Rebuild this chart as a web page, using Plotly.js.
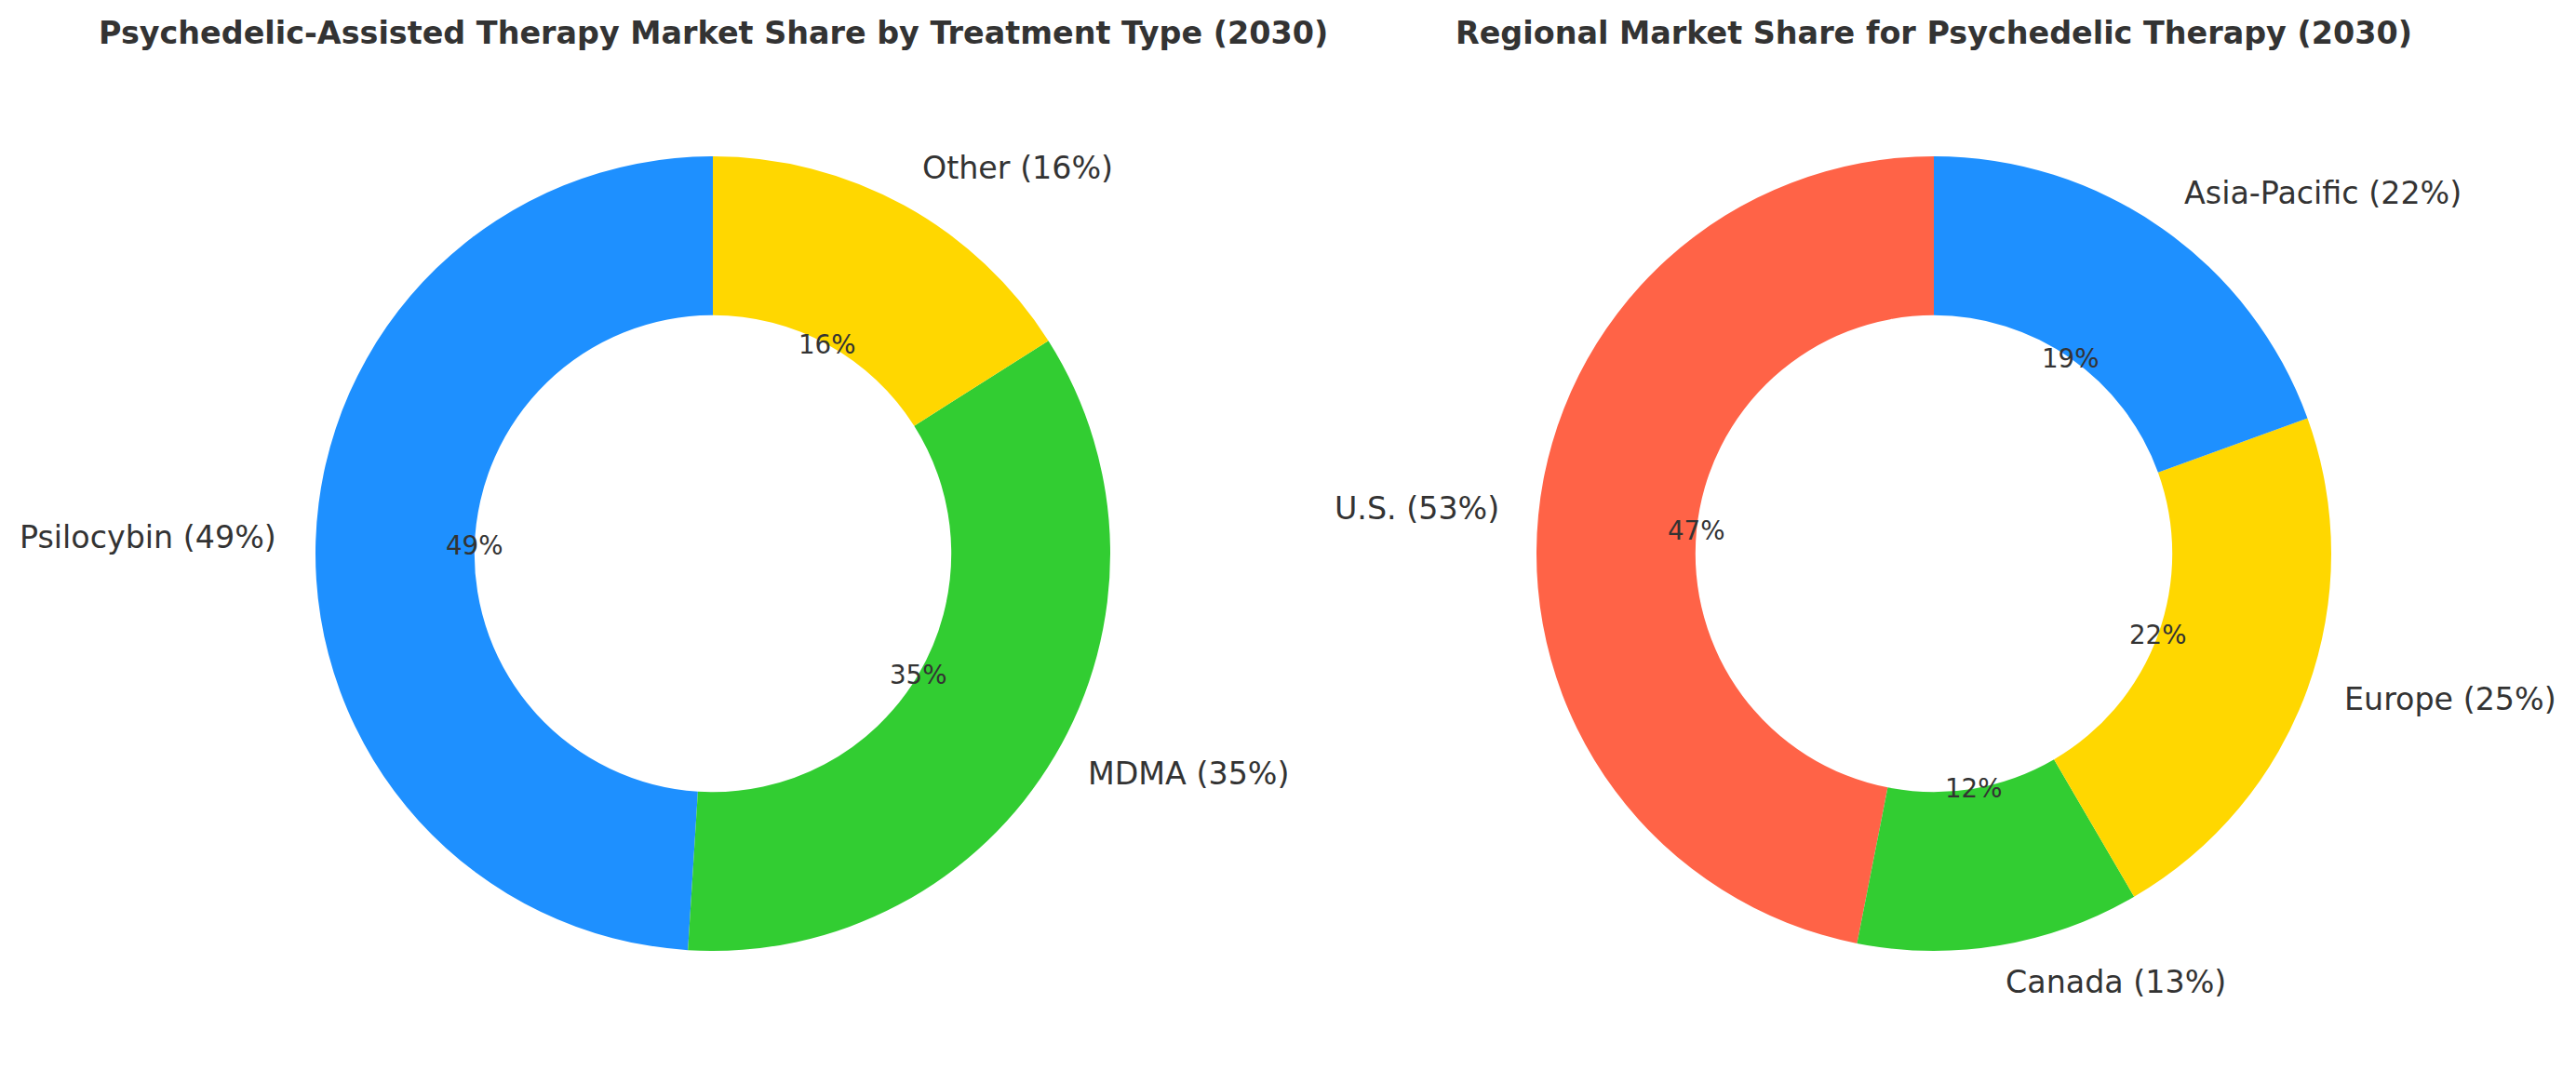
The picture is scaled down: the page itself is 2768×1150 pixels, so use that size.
<!DOCTYPE html>
<html>
<head>
<meta charset="utf-8">
<script src="https://cdn.plot.ly/plotly-3.0.1.min.js"></script>
<style>html,body{margin:0;padding:0;background:#fff;}</style>
</head>
<body>
<div id="chart" style="width:2768px;height:1150px;"></div>
<script>
// ---- Data ----
const treatmentLabels = ["Psilocybin", "MDMA", "Other"];
const treatmentValues = [49, 35, 16];
const treatmentColors = ["#1E90FF", "#32CD32", "#FFD700"];
const treatmentTitle = "Psychedelic-Assisted Therapy Market Share by Treatment Type (2030)";

const regionLabels = ["U.S.", "Canada", "Europe", "Asia-Pacific"];
const regionValues = [53, 13, 25, 22];
const regionColors = ["#FF6347", "#32CD32", "#FFD700", "#1E90FF"];
const regionTitle = "Regional Market Share for Psychedelic Therapy (2030)";

// ---- Layout geometry ----
const W = 2768, H = 1150;
const R = 427;            // pie radius in px
const CY = 595;           // pie center y (px from top)
const centersX = [766, 2078];
const titleY = 35;
const textColor = "#333333";
const FONT = "DejaVu Sans, sans-serif";

function domainFor(cx) {
  return {
    x: [(cx - R) / W, (cx + R) / W],
    y: [(H - CY - R) / H, (H - CY + R) / H]
  };
}

function makePie(labels, values, colors, cx) {
  const total = values.reduce((a, b) => a + b, 0);
  // Plotly's counterclockwise layout puts the first slice clockwise of the
  // rotation origin; shift so the first slice starts at 12 o'clock going CCW.
  const rot = -360 * values[0] / total;
  return {
    type: "pie",
    labels: labels,
    values: values,
    marker: { colors: colors, line: { width: 0 } },
    hole: 0.6,
    sort: false,
    direction: "counterclockwise",
    rotation: rot,
    textinfo: "none",
    hoverinfo: "skip",
    showlegend: false,
    domain: domainFor(cx)
  };
}

function labelAnnotations(labels, values, cx) {
  const total = values.reduce((a, b) => a + b, 0);
  const anns = [];
  let cum = 0;
  values.forEach((v, i) => {
    const frac = v / total;
    const theta = (90 + 360 * (cum + frac / 2)) * Math.PI / 180;
    cum += frac;
    const c = Math.cos(theta), s = Math.sin(theta);
    // outer label at 1.1 R
    const ox = cx + 1.1 * R * c, oy = CY - 1.1 * R * s;
    anns.push({
      xref: "paper", yref: "paper",
      x: ox / W, y: 1 - oy / H,
      text: labels[i] + " (" + v + "%)",
      showarrow: false,
      xanchor: c > 0 ? "left" : "right",
      yanchor: "middle",
      xshift: c > 0 ? -3 : 2,
      yshift: 3,
      font: { family: FONT, size: 33.3, color: textColor }
    });
    // percentage at 0.6 R
    const px = cx + 0.6 * R * c, py = CY - 0.6 * R * s;
    anns.push({
      xref: "paper", yref: "paper",
      x: px / W, y: 1 - py / H,
      text: Math.round(frac * 100) + "%",
      showarrow: false,
      xanchor: "center",
      yanchor: "middle",
      font: { family: FONT, size: 27.7, color: textColor }
    });
  });
  return anns;
}

function titleAnnotation(text, cx) {
  return {
    xref: "paper", yref: "paper",
    x: cx / W, y: 1 - titleY / H,
    text: "<b>" + text + "</b>",
    showarrow: false,
    xanchor: "center", yanchor: "middle",
    font: { family: FONT, size: 33.4, color: textColor }
  };
}

const data = [
  makePie(treatmentLabels, treatmentValues, treatmentColors, centersX[0]),
  makePie(regionLabels, regionValues, regionColors, centersX[1])
];

const layout = {
  width: W, height: H,
  margin: { l: 0, r: 0, t: 0, b: 0 },
  paper_bgcolor: "#ffffff",
  plot_bgcolor: "#ffffff",
  showlegend: false,
  annotations: [
    titleAnnotation(treatmentTitle, centersX[0]),
    titleAnnotation(regionTitle, centersX[1]),
    ...labelAnnotations(treatmentLabels, treatmentValues, centersX[0]),
    ...labelAnnotations(regionLabels, regionValues, centersX[1])
  ]
};

Plotly.newPlot("chart", data, layout, { displayModeBar: false, staticPlot: true });
</script>
</body>
</html>
